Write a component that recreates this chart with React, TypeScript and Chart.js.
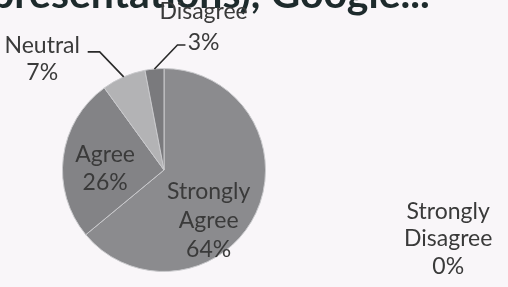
import React, { useEffect, useRef } from "react";
import { Chart, registerables } from "chart.js";

Chart.register(...registerables);

const categories = ["Strongly Agree", "Agree", "Neutral", "Disagree", "Strongly Disagree"];
const percentages = [64, 26, 7, 3, 0];
const sliceColors = ["#8b8b8e", "#838386", "#b3b3b5", "#7a7a7d", "#9a9a9a"];
const titleText = "presentations), Google...";

const FONT = "Lato, 'Open Sans', sans-serif";
const TEXT_COLOR = "#3a3a3a";

const labelPlugin = {
  id: "pieLabels",
  beforeDraw(chart: any) {
    const ctx = chart.ctx;
    ctx.save();
    ctx.fillStyle = "#1d2a2c";
    ctx.font = `bold 41px ${FONT}`;
    ctx.textAlign = "left";
    ctx.textBaseline = "alphabetic";
    ctx.fillText(titleText, -9, 8);
    ctx.restore();
  },
  afterDraw(chart: any) {
    const ctx = chart.ctx;
    const meta = chart.getDatasetMeta(0);
    const arc0 = meta.data[0].getProps(["x", "y", "outerRadius"], true);
    const cx = arc0.x;
    const cy = arc0.y;
    const r = arc0.outerRadius;
    const mid = (i: number) => {
      const a = meta.data[i].getProps(["startAngle", "endAngle"], true);
      return (a.startAngle + a.endAngle) / 2;
    };
    const lines = (i: number) => {
      const name = categories[i];
      const pct = percentages[i] + "%";
      if (name === "Strongly Agree") return ["Strongly", "Agree", pct];
      if (name === "Strongly Disagree") return ["Strongly", "Disagree", pct];
      return [name, pct];
    };
    ctx.save();
    ctx.fillStyle = TEXT_COLOR;
    ctx.font = `23px ${FONT}`;
    ctx.textAlign = "center";
    ctx.textBaseline = "middle";
    // label block centres relative to pie centre, in radius units
    const place: Record<number, [number, number, number]> = {
      0: [0.44, 0.5, 29],
      1: [-0.58, -0.01, 28],
      2: [-1.2, -1.09, 27],
      3: [0.39, -1.41, 31],
      4: [2.8, 0.68, 27.5],
    };
    for (let i = 0; i < categories.length; i++) {
      const [fx, fy, lh] = place[i];
      const ls = lines(i);
      const bx = cx + fx * r;
      const by = cy + fy * r;
      ls.forEach((t, k) => {
        ctx.fillText(t, bx, by + (k - (ls.length - 1) / 2) * lh);
      });
    }
    // leader lines for small slices
    ctx.strokeStyle = "#2a2a2a";
    ctx.lineWidth = 1.6;
    const leader = (i: number, ex: number, ey: number, hx: number) => {
      const a = mid(i);
      const px = cx + r * Math.cos(a);
      const py = cy + r * Math.sin(a);
      ctx.beginPath();
      ctx.moveTo(px, py);
      ctx.lineTo(px + ex, py + ey);
      ctx.lineTo(px + ex + hx, py + ey);
      ctx.stroke();
    };
    leader(2, -24, -25, -12);
    leader(3, 23, -24, 8);
    ctx.restore();
  },
};

export default function App() {
  const ref = useRef<HTMLCanvasElement>(null);
  useEffect(() => {
    if (!ref.current) return;
    const chart = new Chart(ref.current, {
      type: "pie",
      data: {
        labels: categories,
        datasets: [
          {
            data: percentages,
            backgroundColor: sliceColors,
            borderColor: "#c9c9cc",
            borderWidth: 1,
          },
        ],
      },
      options: {
        responsive: false,
        animation: false,
        events: [],
        layout: { padding: { left: 62, right: 242, top: 68, bottom: 15 } },
        plugins: {
          legend: { display: false },
          tooltip: { enabled: false },
          title: { display: false },
        },
      },
      plugins: [labelPlugin],
    });
    return () => chart.destroy();
  }, []);
  return (
    <div
      style={{
        position: "fixed",
        left: 0,
        top: 0,
        width: 508,
        height: 287,
        background: "#f9f6f9",
        overflow: "hidden",
      }}
    >
      <canvas ref={ref} width={508} height={287} style={{ display: "block" }} />
    </div>
  );
}
